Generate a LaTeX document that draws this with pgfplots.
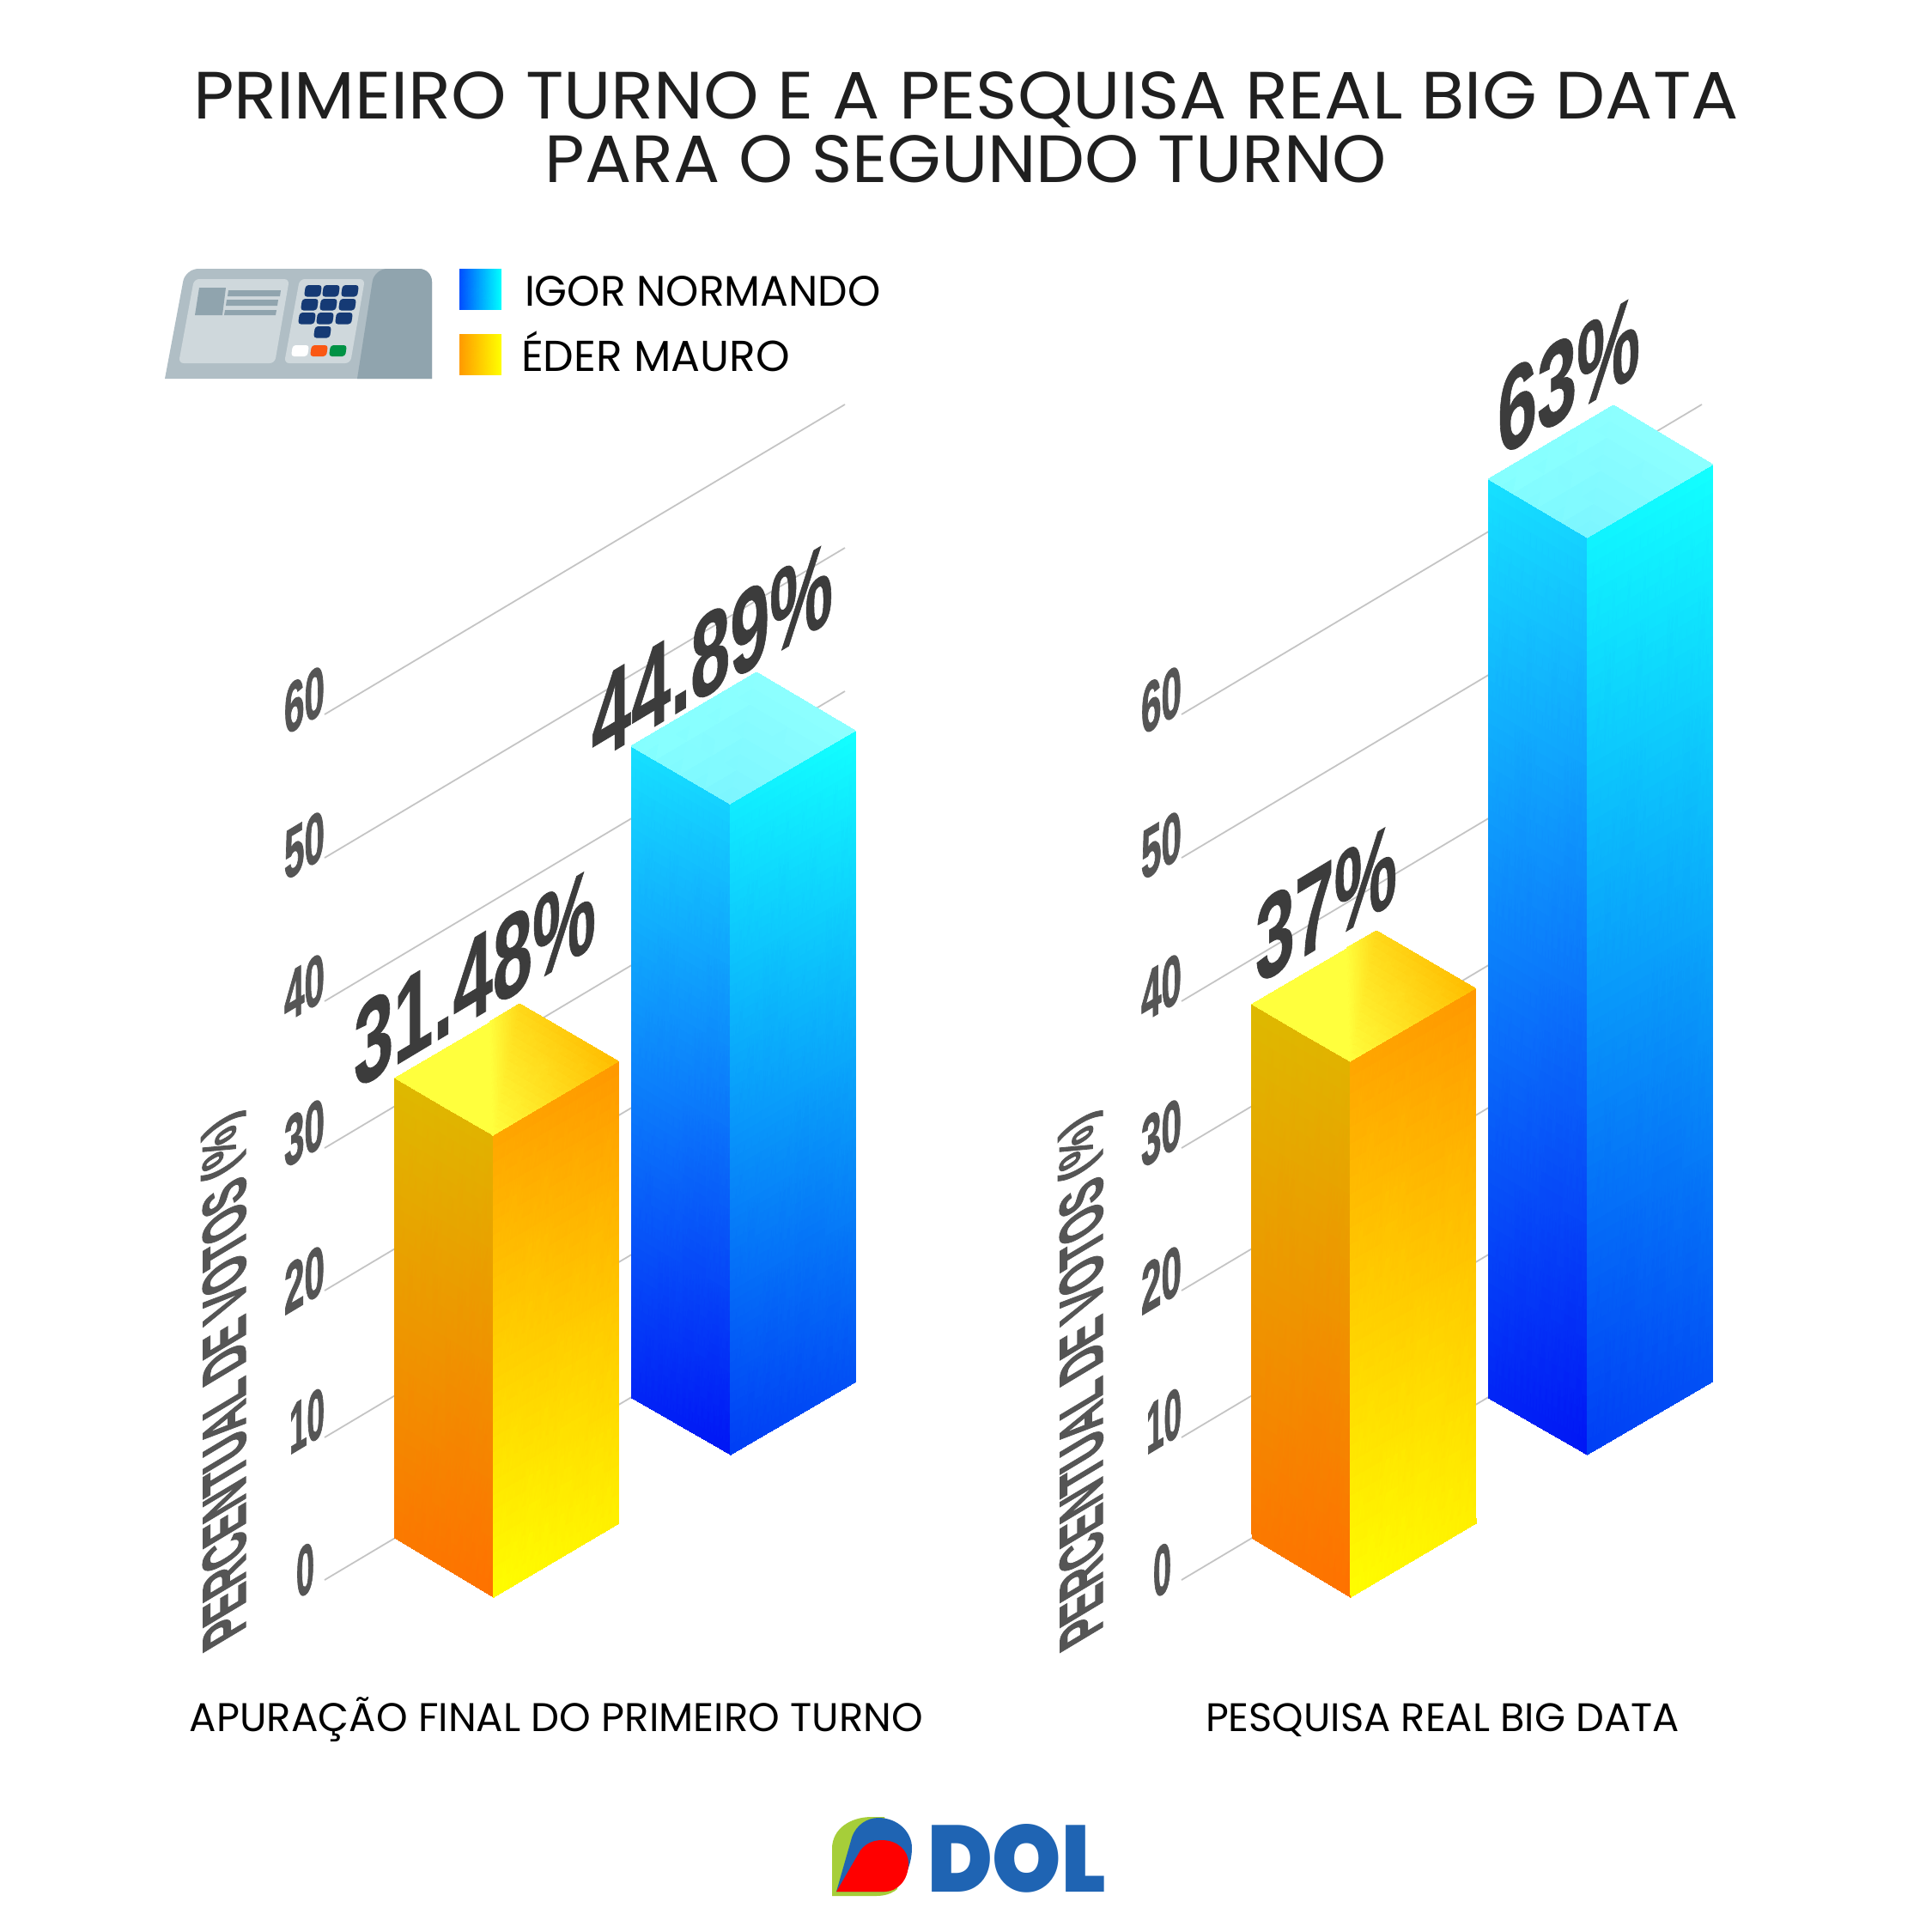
\documentclass[border=0pt]{standalone}
\usepackage{fontspec}
\usepackage{graphicx}
\usepackage{pgfplots}
\pgfplotsset{compat=1.18}
\setmainfont{Poppins}
\newfontfamily\lab[BoldFeatures={FakeBold=1.6}]{Liberation Sans}
\newfontfamily\val[BoldFeatures={FakeBold=0.7}]{Liberation Sans}
\newfontfamily\logo{Poppins Black}
\definecolor{gl}{HTML}{C4C4C4}
\definecolor{tk}{HTML}{555555}
\definecolor{vl}{HTML}{3C3C3C}
\definecolor{key}{HTML}{153A75}
\pgfplotsset{face/.style={patch,patch type=rectangle,shader=interp,mesh/color input=explicit,forget plot}}
\tikzset{sk/.style={cm={1,0.6,0,1,(0,0)},transform shape,inner sep=0pt,outer sep=0pt},
 ylab/.style={cm={0,1,-1,-0.6,(0,0)},transform shape,inner sep=0pt,outer sep=0pt,anchor=base west,text=tk},
 tx/.style={inner sep=0pt,outer sep=0pt}}
\newcommand\tick[4]{\node[sk,anchor=base east,text=tk] at (#1,#2) {\resizebox{#3pt}{11.4pt}{\lab\bfseries #4}};}
\newcommand\vlab[4]{\node[sk,anchor=base west,text=vl] at (#1,#2) {\resizebox{#3pt}{19pt}{\val\bfseries #4}};}
\newcommand\keycap[2]{\fill[key,rounded corners=.7pt] (#1+2,#2) -- (#1+21,#2) -- (#1+19,#2+13.5) -- (#1,#2+13.5) -- cycle;}
\begin{document}
\begin{tikzpicture}
\begin{axis}[scale only axis,width=450pt,height=450pt,xmin=0,xmax=2250,ymin=0,ymax=2250,y dir=reverse,hide axis,clip=false]
\addplot[fill=white,draw=none,forget plot] coordinates {(0,0)(2250,0)(2250,2250)(0,2250)} --cycle;
% grid lines
\addplot[gl,line width=.35pt,forget plot] coordinates {(378,1840)(984,1479)};
\addplot[gl,line width=.35pt,forget plot] coordinates {(378,1674)(984,1313)};
\addplot[gl,line width=.35pt,forget plot] coordinates {(378,1503)(984,1142)};
\addplot[gl,line width=.35pt,forget plot] coordinates {(378,1337)(984,976)};
\addplot[gl,line width=.35pt,forget plot] coordinates {(378,1166)(984,805)};
\addplot[gl,line width=.35pt,forget plot] coordinates {(378,999)(984,638)};
\addplot[gl,line width=.35pt,forget plot] coordinates {(378,832)(984,471)};
\addplot[gl,line width=.35pt,forget plot] coordinates {(1376,1840)(1982,1479)};
\addplot[gl,line width=.35pt,forget plot] coordinates {(1376,1674)(1982,1313)};
\addplot[gl,line width=.35pt,forget plot] coordinates {(1376,1503)(1982,1142)};
\addplot[gl,line width=.35pt,forget plot] coordinates {(1376,1337)(1982,976)};
\addplot[gl,line width=.35pt,forget plot] coordinates {(1376,1166)(1982,805)};
\addplot[gl,line width=.35pt,forget plot] coordinates {(1376,999)(1982,638)};
\addplot[gl,line width=.35pt,forget plot] coordinates {(1376,832)(1982,471)};
% Igor, first round
\addplot[face] table[meta=c]{
x y c
735 869 rgb=.086,.878,1
850 936 rgb=.08,.815,1
851 1694 rgb=0,.078,.96
736 1628 rgb=.007,.14,.965
};
\addplot[face] table[meta=c]{
x y c
850 936 rgb=.063,.92,1
996 851 rgb=.07,1,1
997 1609 rgb=.007,.31,.96
851 1694 rgb=0,.235,.96
};
\addplot[face] table[meta=c]{
x y c
735 869 rgb=.52,1,1
881 783 rgb=.55,1,1
996 851 rgb=.55,1,1
850 936 rgb=.48,.96,1
};
% Eder, first round
\addplot[face] table[meta=c]{
x y c
459 1255 rgb=.87,.725,0
574 1322 rgb=.884,.694,0
575 1860 rgb=1,.44,0
460 1791 rgb=.985,.472,0
};
\addplot[face] table[meta=c]{
x y c
574 1322 rgb=1,.655,0
720 1236 rgb=1,.6,0
721 1774 rgb=1,.945,0
575 1860 rgb=1,1,0
};
\addplot[face] table[meta=c]{
x y c
459 1255 rgb=1,1,.24
570 1190 rgb=1,1,.24
574 1322 rgb=1,1,.24
515 1288 rgb=1,1,.24
};
\addplot[face] table[meta=c]{
x y c
570 1190 rgb=1,1,.24
605 1169 rgb=1,.85,.1
720 1236 rgb=1,.74,0
574 1322 rgb=1,1,.24
};
% Igor, poll
\addplot[face] table[meta=c]{
x y c
1733.5 558 rgb=.086,.878,1
1848.5 626 rgb=.08,.815,1
1848.5 1694 rgb=0,.078,.96
1733.5 1628 rgb=.007,.14,.965
};
\addplot[face] table[meta=c]{
x y c
1848.5 626 rgb=.063,.95,1
1994.5 541 rgb=.07,1,1
1994.5 1609 rgb=.007,.31,.96
1848.5 1694 rgb=0,.235,.96
};
\addplot[face] table[meta=c]{
x y c
1733.5 558 rgb=.52,1,1
1879 472 rgb=.55,1,1
1994.5 541 rgb=.55,1,1
1848.5 626 rgb=.48,.96,1
};
% Eder, poll
\addplot[face] table[meta=c]{
x y c
1457 1169 rgb=.87,.725,0
1572 1236 rgb=.884,.694,0
1573 1860 rgb=1,.44,0
1458 1791 rgb=.985,.472,0
};
\addplot[face] table[meta=c]{
x y c
1572 1236 rgb=1,.655,0
1718 1151 rgb=1,.6,0
1719 1774 rgb=1,.945,0
1573 1860 rgb=1,1,0
};
\addplot[face] table[meta=c]{
x y c
1457 1169 rgb=1,1,.24
1568 1104 rgb=1,1,.24
1572 1236 rgb=1,1,.24
1513 1202 rgb=1,1,.24
};
\addplot[face] table[meta=c]{
x y c
1568 1104 rgb=1,1,.24
1603 1084 rgb=1,.85,.1
1718 1151 rgb=1,.74,0
1572 1236 rgb=1,1,.24
};
% legend swatches
\addplot[face] table[meta=c]{
x y c
535 313 rgb=0,.3,1
584 313 rgb=0,1,1
584 360 rgb=0,1,1
535 360 rgb=0,.3,1
};
\addplot[face] table[meta=c]{
x y c
535 389 rgb=1,.6,0
584 389 rgb=1,1,0
584 436 rgb=1,1,0
535 436 rgb=1,.6,0
};
% title and text
\node[tx,anchor=base] at (1125,138) {\color{black!88}\resizebox{360pt}{11pt}{PRIMEIRO TURNO E A PESQUISA REAL BIG DATA}};
\node[tx,anchor=base] at (1125,212) {\color{black!88}\resizebox{196pt}{11pt}{PARA O SEGUNDO TURNO}};
\node[tx,anchor=base west] at (611,356) {\resizebox{82.9pt}{7pt}{IGOR NORMANDO}};
\node[tx,anchor=base west] at (607,432) {\resizebox{62.6pt}{!}{ÉDER MAURO}};
\node[tx,anchor=base west] at (221,2016) {\resizebox{170.8pt}{!}{APURAÇÃO FINAL DO PRIMEIRO TURNO}};
\node[tx,anchor=base west] at (1404,2016) {\resizebox{110.4pt}{!}{PESQUISA REAL BIG DATA}};
% tick labels
\tick{378}{829}{9.4}{60}
\tick{378}{998}{9.4}{50}
\tick{378}{1164}{9.4}{40}
\tick{378}{1333}{9.4}{30}
\tick{378}{1504}{9.4}{20}
\tick{378}{1670}{8.2}{10}
\tick{366}{1850}{4.2}{0}
\tick{1376}{829}{9.4}{60}
\tick{1376}{998}{9.4}{50}
\tick{1376}{1164}{9.4}{40}
\tick{1376}{1333}{9.4}{30}
\tick{1376}{1504}{9.4}{20}
\tick{1376}{1670}{8.2}{10}
\tick{1364}{1850}{4.2}{0}
\node[ylab] at (286,1898) {\resizebox{122.6pt}{10.4pt}{\lab\bfseries PERCENTUAL DE VOTOS \raisebox{.16em}{\scalebox{1}[.78]{(\%)}}}};
\node[ylab] at (1284,1898) {\resizebox{122.6pt}{10.4pt}{\lab\bfseries PERCENTUAL DE VOTOS \raisebox{.16em}{\scalebox{1}[.78]{(\%)}}}};
% value labels
\vlab{412}{1270}{56.4}{31.48\%}
\vlab{689}{890}{56.2}{44.89\%}
\vlab{1462}{1148}{33}{37\%}
\vlab{1744}{534}{33.2}{63\%}
% voting machine icon
\fill[color={rgb,255:red,176;green,190;blue,197},rounded corners=3pt] (192,441) -- (216,313) -- (503,313) [sharp corners] -- (503,441) -- cycle;
\fill[color={rgb,255:red,144;green,164;blue,174},rounded corners=3pt] (416,441) -- (436,313) -- (503,313) [sharp corners] -- (503,441) -- cycle;
\fill[color={rgb,255:red,207;green,216;blue,220},rounded corners=1.2pt] (226,325) -- (337,325) -- (320,423) -- (208,423) -- cycle;
\fill[color={rgb,255:red,207;green,216;blue,220},rounded corners=1.2pt] (349,325) -- (425,325) -- (408,423) -- (331,423) -- cycle;
\fill[color={rgb,255:red,144;green,164;blue,174}] (232,335) -- (263,335) -- (259,367) -- (227,367) -- cycle;
\fill[color={rgb,255:red,144;green,164;blue,174}] (266,338) -- (327,338) -- (326,345) -- (265,345) -- cycle;
\fill[color={rgb,255:red,144;green,164;blue,174}] (264,349) -- (324,349) -- (323,356) -- (263,356) -- cycle;
\fill[color={rgb,255:red,144;green,164;blue,174}] (262,361) -- (322,361) -- (321,367) -- (261,367) -- cycle;
\keycap{354}{332}\keycap{375}{332}\keycap{397}{332}
\keycap{350}{348}\keycap{372}{348}\keycap{394}{348}
\keycap{347}{364}\keycap{368}{364}\keycap{390}{364}
\keycap{365}{380}
\fill[white,rounded corners=.7pt] (341,402) -- (360,402) -- (358,415) -- (339,415) -- cycle;
\fill[color={rgb,255:red,250;green,88;blue,20},rounded corners=.7pt] (363,402) -- (382,402) -- (380,415) -- (361,415) -- cycle;
\fill[color={rgb,255:red,0;green,146;blue,69},rounded corners=.7pt] (385,402) -- (404,402) -- (402,415) -- (383,415) -- cycle;
% logo
\fill[color={rgb,255:red,166;green,206;blue,57}] (969,2208) -- (969,2153) .. controls (969,2130) and (990,2116) .. (1015,2116) -- (1030,2116) -- (1040,2150) -- (1045,2200) .. controls (1035,2208) and (1025,2208) .. (1018,2208) -- cycle;
\fill[color={rgb,255:red,31;green,100;blue,179}] (974,2203) -- (992,2140) .. controls (997,2125) and (1010,2117) .. (1023,2117) .. controls (1045,2117) and (1062,2133) .. (1062,2152) .. controls (1062,2175) and (1050,2200) .. (1030,2203) -- cycle;
\fill[red] (974,2203) -- (1002,2155) .. controls (1008,2147) and (1017,2143) .. (1027,2143) .. controls (1045,2143) and (1058,2155) .. (1058,2170) .. controls (1058,2190) and (1045,2203) .. (1030,2203) -- cycle;
\node[tx,anchor=base west] at (1080,2203) {\color[RGB]{31,100,179}\resizebox{41.6pt}{15.8pt}{\logo DOL}};
\end{axis}
\end{tikzpicture}
\end{document}
